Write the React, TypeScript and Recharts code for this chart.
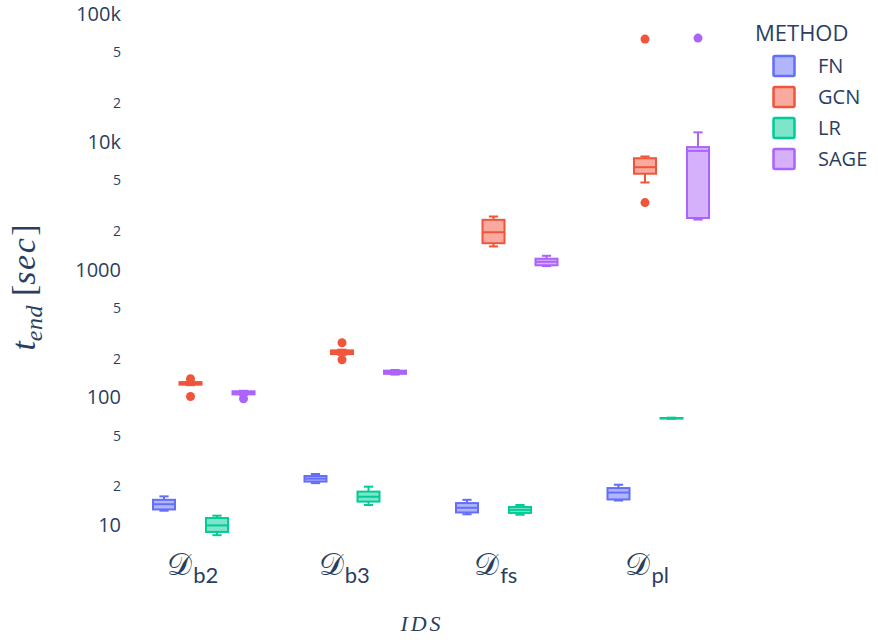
import React from "react";
import { Bar, ComposedChart, Legend, XAxis, YAxis } from "recharts";

const categories = ["b2", "b3", "fs", "pl"];
const methods = ["FN", "GCN", "LR", "SAGE"];
const colors = ["#636efa", "#ef553b", "#00cc96", "#ab63fa"];

// [min, q1, median, q3, max] for each IDS, in seconds
const fnStats = [
  [12.9, 13.2, 14.5, 15.7, 16.7],
  [21.2, 21.8, 23.0, 24.1, 25.0],
  [12.1, 12.5, 13.6, 14.8, 15.7],
  [15.5, 15.8, 17.9, 19.4, 20.6],
];
const gcnStats = [
  [124, 125, 128, 131, 132],
  [214, 217, 225, 232, 235],
  [1510, 1600, 1950, 2440, 2590],
  [4780, 5600, 6300, 7400, 7640],
];
const lrStats = [
  [8.3, 8.8, 9.9, 11.3, 11.8],
  [14.3, 15.2, 16.6, 18.2, 19.9],
  [12.0, 12.4, 13.1, 13.8, 14.3],
  [67.6, 68.0, 68.3, 68.6, 69.0],
];
const sageStats = [
  [104, 105, 108, 111, 112],
  [150, 152, 157, 161, 163],
  [1060, 1075, 1145, 1210, 1276],
  [2450, 2520, 8450, 9050, 11800],
];

const fnOutliers: number[][] = [[], [], [], []];
const gcnOutliers = [[101, 139], [196, 266], [], [3330, 63400]];
const lrOutliers: number[][] = [[], [], [], []];
const sageOutliers = [[97], [], [], [64500]];

const yTicks = [10, 20, 50, 100, 200, 500, 1000, 2000, 5000, 10000, 20000, 50000, 100000];

const statsByMethod: Record<string, number[][]> = {
  FN: fnStats,
  GCN: gcnStats,
  LR: lrStats,
  SAGE: sageStats,
};
const outliersByMethod: Record<string, number[][]> = {
  FN: fnOutliers,
  GCN: gcnOutliers,
  LR: lrOutliers,
  SAGE: sageOutliers,
};

// each bar spans the full extent of a box (outliers included)
const rows = categories.map((name, i) => {
  const row: any = { name };
  methods.forEach((m) => {
    const s = statsByMethod[m][i];
    const o = outliersByMethod[m][i];
    row[m] = [Math.min(s[0], ...o), Math.max(s[4], ...o)];
  });
  return row;
});

const TEXT = "#2a3f5f";

function BoxShape(props: any) {
  const { x, y, width, height, payload, method, color } = props;
  const i = categories.indexOf(payload.name);
  const s = statsByMethod[method][i];
  const o = outliersByMethod[method][i];
  const [lo, hi] = payload[method];
  const span = Math.log(hi) - Math.log(lo);
  // bar ends come from the log axis; inner values placed on the same log scale
  const py = (v: number) => (span === 0 ? y : y + (height * (Math.log(hi) - Math.log(v))) / span);
  const cx = x + width / 2;
  const cap = width * 0.21;
  return (
    <g>
      <line x1={cx} x2={cx} y1={py(s[4])} y2={py(s[3])} stroke={color} strokeWidth={2} />
      <line x1={cx} x2={cx} y1={py(s[1])} y2={py(s[0])} stroke={color} strokeWidth={2} />
      <line x1={cx - cap} x2={cx + cap} y1={py(s[4])} y2={py(s[4])} stroke={color} strokeWidth={2} />
      <line x1={cx - cap} x2={cx + cap} y1={py(s[0])} y2={py(s[0])} stroke={color} strokeWidth={2} />
      <rect
        x={x}
        y={py(s[3])}
        width={width}
        height={Math.max(py(s[1]) - py(s[3]), 0.5)}
        fill={color}
        fillOpacity={0.5}
        stroke={color}
        strokeWidth={2}
      />
      <line x1={x} x2={x + width} y1={py(s[2])} y2={py(s[2])} stroke={color} strokeWidth={2} />
      {o.map((v, k) => (
        <circle key={k} cx={cx} cy={py(v)} r={4.5} fill={color} />
      ))}
    </g>
  );
}

function XTick({ x, y, payload }: any) {
  return (
    <text x={x - 11} y={y + 31} textAnchor="middle" fill={TEXT}>
      <tspan fontFamily="DejaVu Serif" fontSize={31}>
        𝒟
      </tspan>
      <tspan fontFamily="Lato" fontSize={22} dy={8} dx={1}>
        {payload.value}
      </tspan>
    </text>
  );
}

function YTick({ x, y, payload }: any) {
  const v = payload.value;
  const lead = v / Math.pow(10, Math.floor(Math.log10(v) + 1e-9));
  const major = Math.abs(lead - 1) < 1e-6;
  const label = major ? (v >= 10000 ? `${v / 1000}k` : `${v}`) : `${Math.round(lead)}`;
  return (
    <text
      x={x}
      y={y}
      dy="0.36em"
      textAnchor="end"
      fill={TEXT}
      fontFamily="Open Sans"
      fontSize={major ? 20 : 14}
    >
      {label}
    </text>
  );
}

function YTitle(props: any) {
  const vb = props.viewBox || { x: 0, y: 0, height: 543 };
  const cx = vb.x + 35;
  const cy = vb.y + vb.height / 2 + 15;
  return (
    <text
      transform={`translate(${cx}, ${cy}) rotate(-90)`}
      textAnchor="middle"
      fill={TEXT}
      fontFamily="Liberation Serif"
      fontSize={34}
    >
      <tspan fontStyle="italic">t</tspan>
      <tspan fontStyle="italic" fontSize={24} dy={7} letterSpacing={0.5}>
        end
      </tspan>
      <tspan dy={-7} dx={9}>
        [
      </tspan>
      <tspan fontStyle="italic" letterSpacing={1.5}>
        sec
      </tspan>
      <tspan dx={1}>]</tspan>
    </text>
  );
}

function MethodLegend() {
  return (
    <svg width={138} height={175}>
      <text x={15} y={33} dy="0.36em" fill={TEXT} fontFamily="Open Sans" fontSize={22}>
        METHOD
      </text>
      {methods.map((m, k) => (
        <g key={m}>
          <rect
            x={33.5}
            y={56 + k * 31}
            width={21}
            height={20}
            rx={1.5}
            fill={colors[k]}
            fillOpacity={0.5}
            stroke={colors[k]}
            strokeWidth={2.5}
          />
          <text x={78} y={66 + k * 31} dy="0.36em" fill={TEXT} fontFamily="Open Sans" fontSize={20}>
            {m}
          </text>
        </g>
      ))}
    </svg>
  );
}

export default function App() {
  return (
    <div style={{ position: "absolute", left: 0, top: 0, background: "#fff" }}>
      <ComposedChart
        width={878}
        height={642}
        data={rows}
        margin={{ top: 1, right: 144, bottom: 38, left: 0 }}
        barSize={22}
        barGap={4.5}
      >
        <XAxis
          dataKey="name"
          type="category"
          height={60}
          axisLine={false}
          tickLine={false}
          tickSize={0}
          tickMargin={0}
          tick={<XTick />}
          interval={0}
          label={{
            value: "IDS",
            position: "bottom",
            offset: 11,
            fill: TEXT,
            fontFamily: "Liberation Serif",
            fontStyle: "italic",
            fontSize: 22,
            letterSpacing: 3,
            dx: -9,
          }}
        />
        <YAxis
          scale="log"
          domain={[7.08, 125900]}
          allowDataOverflow
          ticks={yTicks}
          interval={0}
          width={128}
          axisLine={false}
          tickLine={false}
          tickSize={0}
          tickMargin={7}
          tick={<YTick />}
          label={{ content: (p: any) => <YTitle {...p} /> }}
        />
        <Legend
          layout="vertical"
          align="center"
          verticalAlign="middle"
          wrapperStyle={{ left: 740, top: 0, width: 138, height: 175 }}
          content={() => <MethodLegend />}
        />
        {methods.map((m, k) => (
          <Bar
            key={m}
            dataKey={m}
            name={m}
            fill={colors[k]}
            isAnimationActive={false}
            shape={(p: any) => <BoxShape {...p} method={m} color={colors[k]} />}
          />
        ))}
      </ComposedChart>
    </div>
  );
}
